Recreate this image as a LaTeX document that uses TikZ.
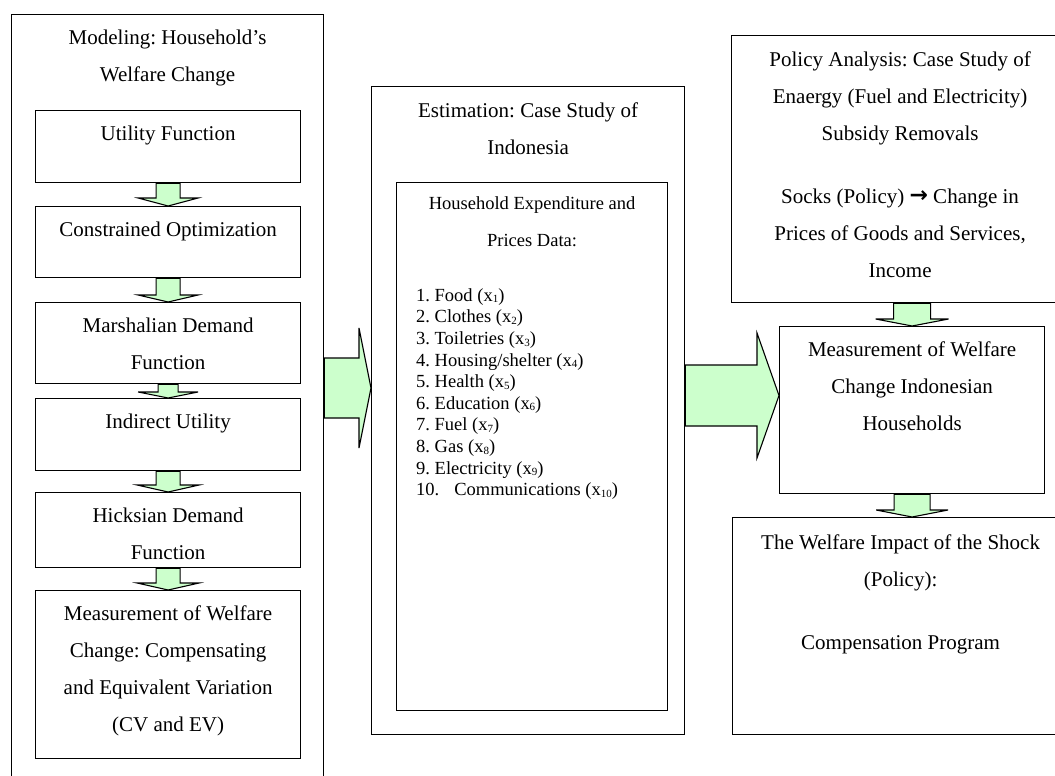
\documentclass[tikz,border=0pt]{standalone}
\usepackage{fontspec}
\setmainfont{Liberation Serif}
\newfontfamily\arrowfont{DejaVu Sans}
\usepackage{tikz}
\usetikzlibrary{calc,positioning}
\definecolor{blockgreen}{HTML}{CCFFCC}
\frenchspacing
\tikzset{
  box/.style={draw, line width=1.2pt, inner sep=0pt, anchor=north west},
  bigtxt/.style={font=\fontsize{21}{37}\selectfont, align=center, inner sep=0pt, anchor=north},
  smalltxt/.style={font=\fontsize{18.5}{37}\selectfont, align=center, inner sep=0pt, anchor=north},
  listtxt/.style={font=\fontsize{18.5}{21.6}\selectfont, align=left, inner sep=0pt},
  blk/.style={draw, fill=blockgreen, line width=1.1pt, line join=miter}
}
\newcommand\downblk[5]{%
  \draw[blk] let \p1=(#1), \p2=(#2) in
    (\x2-#3,\y1) -- (\x2-#3,\y2+#5) -- (\x2-#4,\y2+#5) -- (\x2,\y2)
    -- (\x2+#4,\y2+#5) -- (\x2+#3,\y2+#5) -- (\x2+#3,\y1) -- cycle;}
\newcommand\rightblk[6]{%
  \draw[blk] let \p1=(#1.east), \p2=(#2.west), \p3=(0,#3) in
    (\x1,\y3+#4) -- (\x2-#6,\y3+#4) -- (\x2-#6,\y3+#5) -- (\x2,\y3)
    -- (\x2-#6,\y3-#5) -- (\x2-#6,\y3-#4) -- (\x1,\y3-#4) -- cycle;}
\newcommand\xsub[1]{x\raisebox{-1.5pt}{\fontsize{11}{11}\selectfont #1}}

\begin{document}
\begin{tikzpicture}[x=1pt,y=-1pt]
\useasboundingbox (0,0) rectangle (1055,776);

\node[box, minimum width=312, minimum height=790] (model) at (11,14) {};
\node[bigtxt, below=16pt of model.north] (modeltitle) {Modeling: Household’s\\Welfare Change};
\node[box, minimum width=265, minimum height=72] (util) at (35,110) {};
\node[bigtxt, below=15.5pt of util.north] (utiltxt) {Utility Function};
\node[box, minimum width=265, minimum height=71] (cons) at (35,206) {};
\node[bigtxt, below=15.5pt of cons.north] (constxt) {Constrained Optimization};
\node[box, minimum width=265, minimum height=81] (marsh) at (35,302) {};
\node[bigtxt, below=15.5pt of marsh.north] (marshtxt) {Marshalian Demand\\Function};
\node[box, minimum width=265, minimum height=72] (indir) at (35,398) {};
\node[bigtxt, below=15.5pt of indir.north] (indirtxt) {Indirect Utility};
\node[box, minimum width=265, minimum height=75] (hicks) at (35,492) {};
\node[bigtxt, below=15.5pt of hicks.north] (hickstxt) {Hicksian Demand\\Function};
\node[box, minimum width=265, minimum height=168] (meas) at (35,590) {};
\node[bigtxt, below=15.5pt of meas.north] (meastxt) {Measurement of Welfare\\Change: Compensating\\and Equivalent Variation\\(CV and EV)};

\node[box, minimum width=313, minimum height=648] (est) at (371,86) {};
\node[bigtxt, below=16.5pt of est.north] (esttxt) {Estimation: Case Study of\\Indonesia};
\node[box, minimum width=271, minimum height=528] (data) at (396,182) {};
\node[smalltxt, below=14.3pt of data.north] (datatxt) {Household Expenditure and\\Prices Data:};
\node[listtxt, below right=106.3pt and 20pt of data.north west] (datalist) {%
1. Food (\xsub{1})\\
2. Clothes (\xsub{2})\\
3. Toiletries (\xsub{3})\\
4. Housing/shelter (\xsub{4})\\
5. Health (\xsub{5})\\
6. Education (\xsub{6})\\
7. Fuel (\xsub{7})\\
8. Gas (\xsub{8})\\
9. Electricity (\xsub{9})\\
10.\hspace{15pt}Communications (\xsub{10})};

\node[box, minimum width=337, minimum height=267] (policy) at (731,35) {};
\node[bigtxt, below=16.5pt of policy.north] (policytxt) {Policy Analysis: Case Study of\\Enaergy (Fuel and Electricity)\\Subsidy Removals\\[26pt]Socks (Policy) {\arrowfont\bfseries\fontsize{22}{22}\selectfont\raisebox{1pt}{→}} Change in\\Prices of Goods and Services,\\Income};
\node[box, minimum width=265, minimum height=167] (mwc) at (779,326) {};
\node[bigtxt, below=15.5pt of mwc.north] (mwctxt) {Measurement of Welfare\\Change Indonesian\\Households};
\node[box, minimum width=336, minimum height=217] (impact) at (732,517) {};
\node[bigtxt, below=17.5pt of impact.north] (impacttxt) {The Welfare Impact of the Shock\\(Policy):\\[26pt]Compensation Program};

\downblk{util.south}{cons.north}{12pt}{30pt}{8pt}
\downblk{cons.south}{marsh.north}{12pt}{30pt}{7pt}
\downblk{marsh.south}{indir.north}{10pt}{30pt}{6pt}
\downblk{indir.south}{hicks.north}{12pt}{31pt}{7pt}
\downblk{hicks.south}{meas.north}{12pt}{31pt}{7pt}
\downblk{policy.south -| mwc.north}{mwc.north}{18.5pt}{36.5pt}{7pt}
\downblk{mwc.south}{impact.north -| mwc.south}{18pt}{36pt}{7pt}
\rightblk{model}{est}{388}{30pt}{60pt}{12pt}
\rightblk{est}{mwc}{395.5}{30.5pt}{62.5pt}{22pt}
\end{tikzpicture}
\end{document}
